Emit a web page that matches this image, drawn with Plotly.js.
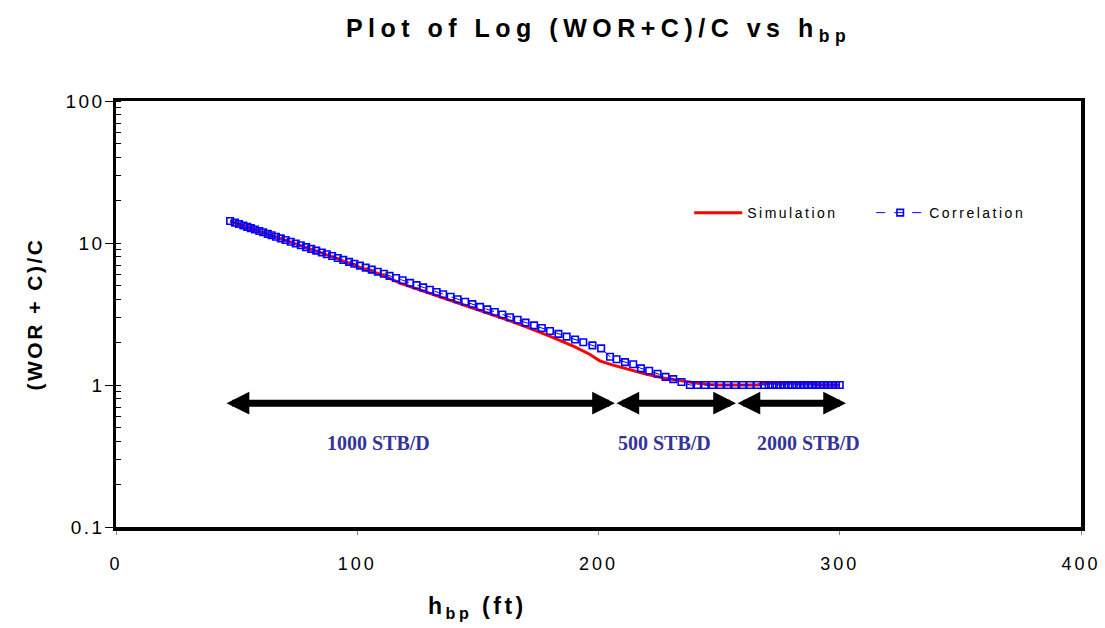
<!DOCTYPE html>
<html>
<head>
<meta charset="utf-8">
<script src="https://cdn.plot.ly/plotly-3.0.1.min.js"></script>
<style>
  html, body { margin: 0; padding: 0; background: #fff; }
  #chart { width: 1105px; height: 628px; }
  .gtitle { letter-spacing: 5.5px; }
  .xtick text { letter-spacing: 3px; }
  .ytick text { letter-spacing: 2.5px; }
  .legendtext { letter-spacing: 2.5px; }
  .ytitle { letter-spacing: 2.5px; }
  .annotation[data-index="6"] text { letter-spacing: 3.5px; }
</style>
</head>
<body>
<div id="chart"></div>
<script>
// ---- Data ----
// Correlation (blue dashed line with square markers)
var corrH = [47.3, 49.3, 51.0, 52.8, 54.4, 55.9, 57.6, 59.4, 61.0, 62.9, 64.5, 66.3, 68.3, 70.3, 72.4,
  74.5, 76.6, 78.8, 80.9, 83.0, 85.3, 87.4, 89.6, 91.9, 94.2, 96.6, 98.8, 101.1, 103.5, 106.0,
  108.5, 111.0, 113.4, 116.1, 118.8, 121.9, 124.6, 127.3, 130.1, 132.9, 135.6, 138.7, 141.6, 144.7,
  147.7, 150.9, 153.9, 157.0, 160.1, 163.3, 166.5, 169.8, 173.3, 176.5, 179.9, 183.4, 186.8, 190.3,
  193.7, 197.5, 201.1, 204.8, 207.5, 211.0, 214.4, 217.6, 221.0, 224.5, 227.8, 231.0, 234.4, 237.9,
  241.0, 244.1, 247.2, 250.4, 253.5, 256.6, 259.8, 262.8, 265.8, 268.8, 270.5, 272.1, 273.8, 275.4,
  277.0, 278.7, 280.3, 282.0, 283.6, 285.2, 286.9, 288.5, 290.2, 291.8, 293.4, 295.1, 296.7, 298.4, 300.0];
var corrY = [14.29, 13.91, 13.60, 13.27, 12.99, 12.73, 12.44, 12.14, 11.89, 11.59, 11.34, 11.07, 10.78, 10.49, 10.20,
  9.91, 9.64, 9.35, 9.09, 8.84, 8.57, 8.33, 8.09, 7.84, 7.61, 7.36, 7.15, 6.93, 6.71, 6.49,
  6.28, 6.07, 5.87, 5.67, 5.46, 5.24, 5.05, 4.87, 4.69, 4.52, 4.36, 4.18, 4.02, 3.86,
  3.71, 3.55, 3.41, 3.27, 3.14, 3.00, 2.88, 2.75, 2.63, 2.52, 2.40, 2.29, 2.19, 2.09,
  2.00, 1.90, 1.81, 1.58, 1.52, 1.45, 1.40, 1.31, 1.26, 1.20, 1.14, 1.10, 1.05, 1.00,
  1.00, 1.00, 1.00, 1.00, 1.00, 1.00, 1.00, 1.00, 1.00, 1.00, 1.00, 1.00, 1.00, 1.00,
  1.00, 1.00, 1.00, 1.00, 1.00, 1.00, 1.00, 1.00, 1.00, 1.00, 1.00, 1.00, 1.00, 1.00, 1.00];
// Simulation (red solid line)
var simH = [47.3, 60, 70, 80, 90, 100, 110, 118, 130, 140, 150, 160, 170, 180, 190, 196.5, 200.5,
  206, 213, 220, 227, 234, 241, 246, 250, 260, 266, 268, 275, 285, 289, 292, 300];
var simY = [14.29, 12.05, 10.53, 9.20, 7.96, 6.84, 5.98, 5.20, 4.45, 3.89, 3.39, 2.96, 2.57, 2.20, 1.86, 1.64, 1.48,
  1.38, 1.28, 1.19, 1.12, 1.07, 1.03, 1.01, 1.00, 1.00, 1.00, 1.03, 1.035, 1.03, 1.02, 1.00, 1.00];
// Production-rate periods (double arrows) and their labels
var periodBounds = [45.2, 206.8, 257.0, 302.6];
var periodLevel = 0.745;
var periodLabels = ['1000 STB/D', '500 STB/D', '2000 STB/D'];
var periodLabelH = [109, 227.4, 287];
var periodLabelLevel = 0.39;
var seriesNames = ['Simulation', 'Correlation'];
var xTickVals = [0, 100, 200, 300, 400];

var traces = [
  { x: simH, y: simY, name: seriesNames[0], type: 'scatter', mode: 'lines',
    line: { color: '#ff0000', width: 3 } },
  { x: corrH, y: corrY, name: seriesNames[1], type: 'scatter', mode: 'lines+markers',
    line: { color: '#0000ff', width: 1, dash: 'dash' },
    marker: { symbol: 'square-open', size: 6.5, color: '#0000ff', line: { width: 1.6, color: '#0000ff' } } }
];

var annotations = [];
for (var i = 0; i < periodLabels.length; i++) {
  annotations.push({
    x: periodBounds[i + 1], y: Math.log10(periodLevel),
    ax: periodBounds[i], ay: Math.log10(periodLevel),
    xref: 'x', yref: 'y', axref: 'x', ayref: 'y',
    text: '', showarrow: true, arrowside: 'end+start',
    arrowhead: 2, startarrowhead: 2, arrowsize: 0.65, startarrowsize: 0.65,
    arrowwidth: 7, arrowcolor: '#000000', standoff: 0, startstandoff: 0
  });
  annotations.push({
    x: periodLabelH[i], y: Math.log10(periodLabelLevel), xref: 'x', yref: 'y',
    text: '<b>' + periodLabels[i] + '</b>', showarrow: false,
    font: { family: 'Liberation Serif, Times New Roman, serif', size: 20, color: '#333399' }
  });
}
annotations.push({
  x: 0.375, y: -0.19, xref: 'paper', yref: 'paper', xanchor: 'center', yanchor: 'middle',
  text: '<b>h<sub>bp</sub> (ft)</b>', showarrow: false, captureevents: false,
  font: { family: 'Arial, Liberation Sans, sans-serif', size: 23, color: '#000000' }
});

var layout = {
  width: 1105, height: 628,
  paper_bgcolor: '#ffffff', plot_bgcolor: '#ffffff',
  margin: { l: 116, r: 24, t: 101, b: 101, autoexpand: false },
  font: { family: 'Arial, Liberation Sans, sans-serif', color: '#000000' },
  title: {
    text: '<b>Plot of Log (WOR+C)/C vs h<sub>bp</sub></b>',
    font: { size: 25, color: '#000000' },
    xref: 'paper', x: 0.5, xanchor: 'center',
    yref: 'container', y: 0.955, yanchor: 'middle'
  },
  xaxis: {
    range: [0, 400], tickvals: xTickVals, ticktext: xTickVals.map(String),
    showline: true, linewidth: 3.5, linecolor: '#000000', mirror: true,
    ticks: 'outside', ticklen: 4, tickwidth: 1, tickcolor: '#888888',
    ticklabelstandoff: 14,
    showgrid: false, zeroline: false, automargin: false,
    tickfont: { size: 18, color: '#000000' }
  },
  yaxis: {
    type: 'log', range: [-1, 2], dtick: 1,
    showline: true, linewidth: 3.5, linecolor: '#000000', mirror: true,
    ticks: 'outside', ticklen: 8, tickwidth: 1, tickcolor: '#000000',
    ticklabelstandoff: -4,
    minor: { ticks: 'inside', ticklen: 5, tickwidth: 1, tickcolor: '#000000', showgrid: false },
    showgrid: false, zeroline: false, automargin: false,
    tickfont: { size: 19, color: '#000000' },
    title: { text: '<b>(WOR + C)/C</b>', font: { size: 21, color: '#000000' }, standoff: 18 }
  },
  showlegend: true,
  legend: {
    orientation: 'h', x: 0.594, xanchor: 'left', y: 0.737, yanchor: 'middle',
    bgcolor: 'rgba(0,0,0,0)', borderwidth: 0,
    font: { size: 14, color: '#000000' },
    itemwidth: 48,
    entrywidth: 119, entrywidthmode: 'pixels'
  },
  annotations: annotations
};

Plotly.newPlot('chart', traces, layout, { staticPlot: true, displayModeBar: false });
</script>
</body>
</html>
